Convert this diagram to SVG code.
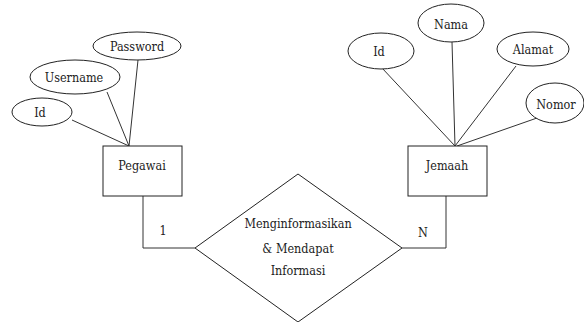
<svg xmlns="http://www.w3.org/2000/svg" width="584" height="322" viewBox="0 0 584 322">
<style>
.s{fill:#fff;stroke:#222;stroke-width:1}
.l{fill:none;stroke:#333;stroke-width:1}
text{font-family:"DejaVu Serif","Liberation Serif",serif;font-stretch:condensed;font-size:12.5px;fill:#222;text-anchor:middle;dominant-baseline:central}
</style>
<rect width="584" height="322" fill="#fff"/>
<g id="connectors">
<line class="l" x1="138" y1="60" x2="129" y2="146"/>
<line class="l" x1="107" y1="92" x2="129" y2="146"/>
<line class="l" x1="72" y1="120" x2="129" y2="146"/>
<line class="l" x1="382" y1="68" x2="455" y2="146"/>
<line class="l" x1="452" y1="42" x2="455" y2="146"/>
<line class="l" x1="516" y1="66" x2="455" y2="146"/>
<line class="l" x1="537" y1="118" x2="457" y2="146"/>
<polyline class="l" points="143,196 143,248 195,248"/>
<polyline class="l" points="402,248 446,248 446,196"/>
<text x="163" y="230">1</text>
<text x="423" y="232">N</text>
</g>
<g id="attr-password"><ellipse class="s" cx="137" cy="46" rx="44" ry="14"/><text x="137" y="46">Password</text></g>
<g id="attr-username"><ellipse class="s" cx="75" cy="77" rx="45" ry="17"/><text x="74" y="77">Username</text></g>
<g id="attr-id1"><ellipse class="s" cx="42" cy="112" rx="30" ry="14"/><text x="40" y="112">Id</text></g>
<g id="pegawai"><rect class="s" x="103" y="146" width="79" height="50"/><text x="142" y="165">Pegawai</text></g>
<g id="attr-id2"><ellipse class="s" cx="381" cy="51" rx="33" ry="18"/><text x="379" y="51">Id</text></g>
<g id="attr-nama"><ellipse class="s" cx="451" cy="23" rx="33" ry="19"/><text x="451" y="24">Nama</text></g>
<g id="attr-alamat"><ellipse class="s" cx="533" cy="49" rx="36" ry="17"/><text x="533" y="49">Alamat</text></g>
<g id="attr-nomor"><ellipse class="s" cx="555" cy="103" rx="29" ry="20"/><text x="556" y="104">Nomor</text></g>
<g id="jemaah"><rect class="s" x="408" y="146" width="79" height="50"/><text x="447" y="165">Jemaah</text></g>
<g id="relasi"><polygon class="s" points="298,174 402,248 298,322 195,248"/>
<text x="298" y="223">Menginformasikan</text>
<text x="298" y="248">&amp; Mendapat</text>
<text x="298" y="270">Informasi</text></g>
</svg>
